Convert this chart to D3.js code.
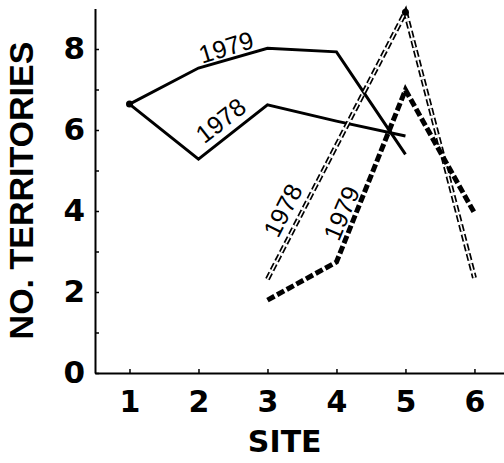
<!DOCTYPE html>
<html><head><meta charset="utf-8">
<script src="https://cdn.jsdelivr.net/npm/d3@7"></script>
<style>
html,body{margin:0;padding:0;background:#fff;}
svg{display:block;}
</style></head>
<body>
<svg id="c" width="504" height="463"></svg>
<script>
// ---- data ----
const sites = [1, 2, 3, 4, 5, 6];
const yTicks = [0, 1, 2, 3, 4, 5, 6, 7, 8];
const yTickLabels = ["0", "", "2", "", "4", "", "6", "", "8"];
const solid1979Sites = [1, 2, 3, 4, 5];
const solid1979 = [6.64, 7.53, 8.02, 7.93, 5.40];
const solid1978Sites = [1, 2, 3, 4, 5];
const solid1978 = [6.64, 5.28, 6.62, 6.22, 5.85];
const dashed1978Sites = [3, 4, 5, 6];
const dashed1978 = [2.32, 5.62, 8.91, 2.35];
const dashed1979Sites = [3, 4, 5, 6];
const dashed1979 = [1.80, 2.74, 6.99, 3.95];
const markedPoints = [[1, 6.64], [5, 8.91]];
const lineLabels = [
  {text: "1979", x: 2.40, y: 8.05, angle: -17},
  {text: "1978", x: 2.32, y: 6.24, angle: -38},
  {text: "1978", x: 3.22, y: 4.02, angle: -63},
  {text: "1979", x: 4.07, y: 3.95, angle: -67}
];
const xTitle = "SITE";
const yTitle = "NO. TERRITORIES";

// ---- drawing ----
const svg = d3.select("#c");
const x = d3.scaleLinear().domain([0.5, 6.45]).range([95, 505.5]);
const y = d3.scaleLinear().domain([0, 9]).range([373, 8.5]);

const xAxis = d3.axisBottom(x).tickValues(sites).tickFormat(d3.format("d"))
  .tickSizeInner(-4).tickSizeOuter(0).tickPadding(18);
const gx = svg.append("g").attr("transform", `translate(0,${y(0)})`).call(xAxis);
gx.select(".domain").attr("stroke-width", 2);
gx.selectAll(".tick line").attr("stroke-width", 1.5);
gx.selectAll("text").attr("font-family", "'DejaVu Sans', sans-serif")
  .attr("font-weight", "bold").attr("font-size", 30).attr("fill", "#000");

const yAxis = d3.axisLeft(y).tickValues(yTicks).tickFormat((d, i) => yTickLabels[i])
  .tickSizeInner(-4).tickSizeOuter(0).tickPadding(10);
const gy = svg.append("g").attr("transform", `translate(${x(0.5)},0)`).call(yAxis);
gy.select(".domain").attr("stroke-width", 2);
gy.selectAll(".tick line").attr("stroke-width", 1.5);
gy.selectAll("text").attr("font-family", "'DejaVu Sans', sans-serif")
  .attr("font-weight", "bold").attr("font-size", 31).attr("fill", "#000");

svg.append("text").text(xTitle)
  .attr("x", x(3.25)).attr("y", 452)
  .attr("text-anchor", "middle")
  .attr("font-family", "'DejaVu Sans', sans-serif").attr("font-weight", "bold")
  .attr("font-size", 30).attr("fill", "#000");

svg.append("text").text(yTitle)
  .attr("transform", "translate(33,190.5) rotate(-90)")
  .attr("text-anchor", "middle")
  .attr("font-family", "'Liberation Sans', Arial, sans-serif").attr("font-weight", "bold")
  .attr("font-size", 34).attr("fill", "#000");

const line = d3.line().x(d => x(d[0])).y(d => y(d[1]));
const zip = (a, b) => a.map((v, i) => [v, b[i]]);

// solid lines
[[solid1979Sites, solid1979], [solid1978Sites, solid1978]].forEach(([s, v]) => {
  svg.append("path").datum(zip(s, v)).attr("d", line)
    .attr("fill", "none").attr("stroke", "#000").attr("stroke-width", 3)
    .attr("stroke-linejoin", "miter");
});

// hollow dashed (1978)
const d78 = zip(dashed1978Sites, dashed1978);
svg.append("path").datum(d78).attr("d", line)
  .attr("fill", "none").attr("stroke", "#000").attr("stroke-width", 5)
  .attr("stroke-dasharray", "7,3");
svg.append("path").datum(d78).attr("d", line)
  .attr("fill", "none").attr("stroke", "#fff").attr("stroke-width", 1.6)
  .attr("stroke-dasharray", "7,3");

// thick dashed (1979)
svg.append("path").datum(zip(dashed1979Sites, dashed1979)).attr("d", line)
  .attr("fill", "none").attr("stroke", "#000").attr("stroke-width", 5)
  .attr("stroke-dasharray", "8,3");

// points
svg.selectAll("circle.pt").data(markedPoints).enter().append("circle")
  .attr("cx", d => x(d[0])).attr("cy", d => y(d[1])).attr("r", 3.5).attr("fill", "#000");

// line labels
svg.selectAll("text.lbl").data(lineLabels).enter().append("text")
  .attr("class", "lbl")
  .attr("transform", d => `translate(${x(d.x)},${y(d.y)}) rotate(${d.angle})`)
  .attr("text-anchor", "middle").attr("dominant-baseline", "central")
  .attr("font-family", "'Liberation Sans', Arial, sans-serif")
  .attr("font-size", 25).attr("fill", "#000")
  .text(d => d.text);
</script>
</body></html>
